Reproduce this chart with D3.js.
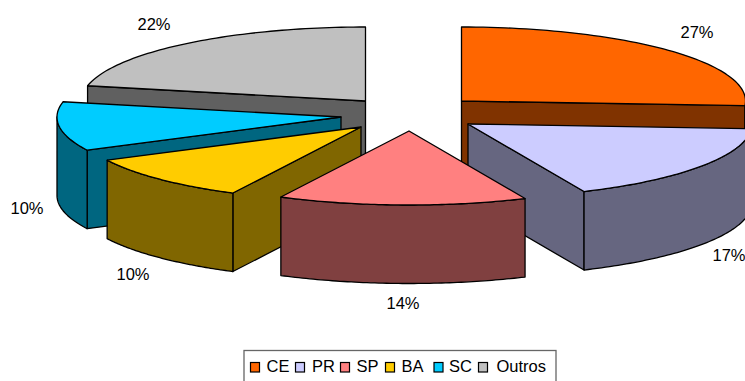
<!DOCTYPE html>
<html><head><meta charset="utf-8">
<script src="https://cdn.jsdelivr.net/npm/d3@7"></script>
<style>html,body{margin:0;padding:0;background:#fff}svg{display:block}text{font-family:"Liberation Sans",Arial,sans-serif;fill:#000}</style>
</head><body><svg id="c" width="745" height="381"></svg>
<script>
const categories = ["CE","PR","SP","BA","SC","Outros"];
const shares = [26.0, 17.3, 14.15, 10.15, 10.7, 21.7];
const labels = ["27%","17%","14%","10%","10%","22%"];
const topColors = ["#FF6600","#CCCCFF","#FF8080","#FFCC00","#00CCFF","#C0C0C0"];
const sideColors = ["#803300","#666680","#804040","#806600","#006680","#606060"];
const apexX = [461.5,468,409,361,341,365.5];
const apexY = [101,124,131,127,117,101];
const labelX = [697,729,403,133,27,154];
const labelY = [38,261,309,280,214,30];
const paintOrder = [5,0,4,3,1,2];

const svg = d3.select("#c");
const RX = 284, RY = 74, DEPTH = 78.5;
const pie = d3.pie().sort(null).value(d=>d)(shares);
const pt = (i,a,dz=0)=>[apexX[i]+RX*Math.sin(a), apexY[i]-RY*Math.cos(a)+dz];
const arcPts = (i,a0,a1,dz=0)=>d3.range(0,65).map(k=>pt(i,a0+(a1-a0)*k/64,dz));
const line = d3.line();
const draw = (pts,fill)=>svg.append("path").attr("d",line(pts)+"Z").attr("fill",fill)
  .attr("stroke","#000").attr("stroke-width",1.3).attr("stroke-linejoin","round");

paintOrder.forEach(i=>{
  const {startAngle:a0,endAngle:a1} = pie[i];
  const c=[apexX[i],apexY[i]], cb=[apexX[i],apexY[i]+DEPTH];
  if(Math.sin(a0)<-1e-6) draw([c,pt(i,a0),pt(i,a0,DEPTH),cb],sideColors[i]);
  if(Math.sin(a1)>1e-6) draw([c,pt(i,a1),pt(i,a1,DEPTH),cb],sideColors[i]);
  const w0=Math.max(a0,Math.PI/2), w1=Math.min(a1,1.5*Math.PI);
  if(w1>w0) draw([...arcPts(i,w0,w1),...arcPts(i,w0,w1,DEPTH).reverse()],sideColors[i]);
  draw([c,...arcPts(i,a0,a1)],topColors[i]);
});

labels.forEach((t,i)=>svg.append("text").attr("x",labelX[i]).attr("y",labelY[i])
  .attr("text-anchor","middle").attr("font-size",16.5).text(t));

// legend
const lg = svg.append("g");
lg.append("rect").attr("x",244).attr("y",350.5).attr("width",312).attr("height",40)
  .attr("fill","#fff").attr("stroke","#666").attr("stroke-width",1.3);
const swatchX=[250.5,295.5,340.5,385.5,434,478.5], textX=[266.5,312,356.5,401.5,449,496.5];
categories.forEach((t,i)=>{
  lg.append("rect").attr("x",swatchX[i]).attr("y",362.5).attr("width",9).attr("height",9.5)
    .attr("fill",topColors[i]).attr("stroke","#000").attr("stroke-width",1.2);
  lg.append("text").attr("x",textX[i]).attr("y",372).attr("font-size",16.5).text(t);
});
</script></body></html>
